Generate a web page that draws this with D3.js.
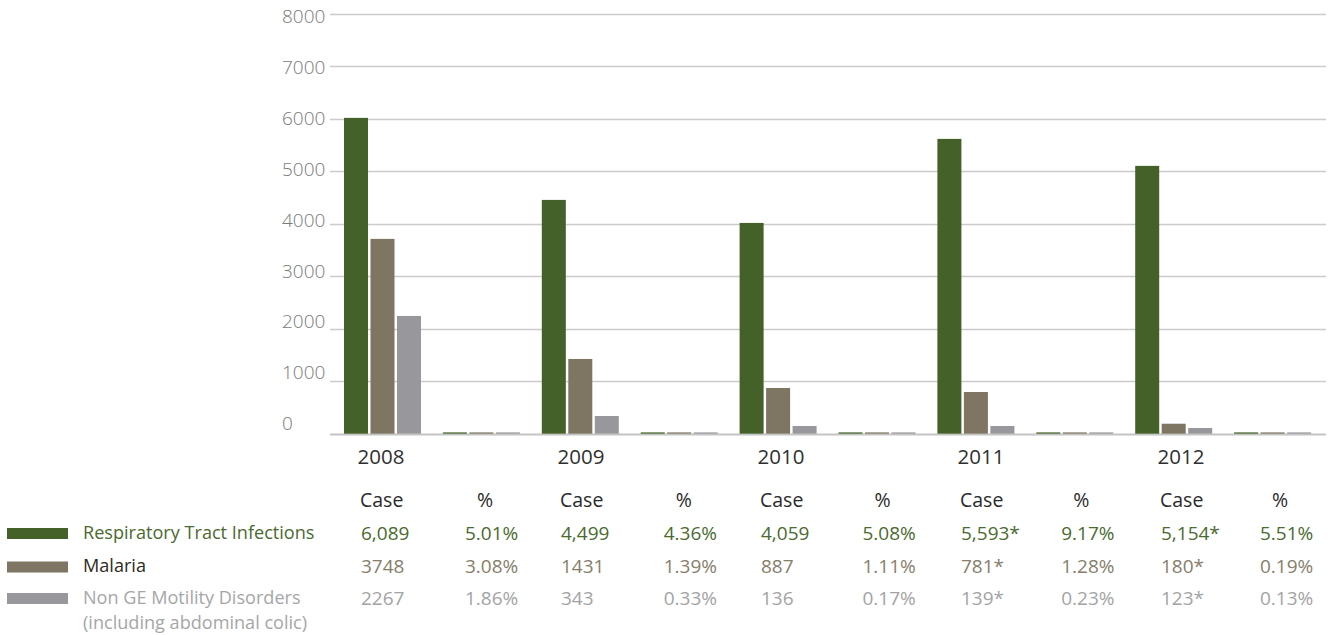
<!DOCTYPE html>
<html>
<head>
<meta charset="utf-8">
<script src="https://cdn.jsdelivr.net/npm/d3@7"></script>
<style>
  html, body { margin: 0; padding: 0; background: #fff; }
  svg { display: block; font-family: "Open Sans", "Noto Sans", sans-serif; }
</style>
</head>
<body>
<svg id="chart" width="1336" height="635"></svg>
<script>
// ---------- data ----------
const years = ["2008", "2009", "2010", "2011", "2012"];
const seriesNames = ["Respiratory Tract Infections", "Malaria", "Non GE Motility Disorders"];
const seriesNote = ["", "", "(including abdominal colic)"];
// bar heights (cases)
const rtiCases = [6013, 4451, 4013, 5613, 5099];
const malariaCases = [3709, 1423, 870, 794, 190];
const nonGeCases = [2242, 337, 147, 147, 109];
// percent values (also plotted on the same axis, hence tiny)
const rtiPct = [5.01, 4.36, 5.08, 9.17, 5.51];
const malariaPct = [3.08, 1.39, 1.11, 1.28, 0.19];
const nonGePct = [1.86, 0.33, 0.17, 0.23, 0.13];
// table texts
const rtiCaseLabels = ["6,089", "4,499", "4,059", "5,593*", "5,154*"];
const malariaCaseLabels = ["3748", "1431", "887", "781*", "180*"];
const nonGeCaseLabels = ["2267", "343", "136", "139*", "123*"];
const columnHeaders = ["Case", "%"];
const yTicks = [0, 1000, 2000, 3000, 4000, 5000, 6000, 7000, 8000];

// ---------- styles ----------
const barColors = ["#44612a", "#7e7662", "#98989c"];
const labelColors = ["#4b6a2f", "#2e2a22", "#a6a6a8"];
const valueColors = ["#4b6a2f", "#877e6b", "#a3a3a5"];

const svg = d3.select("#chart");

// groups: year x (Case, %)
const groups = [];
years.forEach(y => { groups.push(y + "|Case"); groups.push(y + "|%"); });

const x = d3.scaleBand().domain(groups).range([344, 344 + 10 * 98.9]).paddingInner(0).paddingOuter(0);
const xInner = d3.scaleBand().domain(d3.range(3)).range([0, 77]).paddingInner(0.094).paddingOuter(0);
const y = d3.scaleLinear().domain([0, 8000]).range([433.7, 13.5]);
const yLabel = d3.scaleLinear().domain([0, 8000]).range([423.5, 16]);

// gridlines
svg.append("g").selectAll("line").data(yTicks).join("line")
  .attr("x1", 330).attr("x2", 1326)
  .attr("y1", d => Math.round(y(d)) + 0.5).attr("y2", d => Math.round(y(d)) + 0.5)
  .attr("stroke", d => d === 0 ? "#c4c4c4" : "#cbcbcb")
  .attr("stroke-width", d => d === 0 ? 2 : 1.3);

// tick labels
svg.append("g").selectAll("text").data(yTicks).join("text")
  .attr("x", 282).attr("y", d => yLabel(d))
  .attr("dy", "0.36em")
  .attr("font-size", 19)
  .attr("font-weight", 300)
  .attr("fill", "#7a7a7a")
  .text(d => d);

// bars
const caseSeries = [rtiCases, malariaCases, nonGeCases];
const pctSeries = [rtiPct, malariaPct, nonGePct];
const barData = [];
years.forEach((yr, i) => {
  caseSeries.forEach((s, k) => barData.push({ g: yr + "|Case", k, v: s[i] }));
  pctSeries.forEach((s, k) => barData.push({ g: yr + "|%", k, v: s[i] }));
});
svg.append("g").selectAll("rect").data(barData).join("rect")
  .attr("x", d => x(d.g) + xInner(d.k))
  .attr("width", xInner.bandwidth())
  .attr("y", d => Math.min(y(d.v), y(0) - 1.3))
  .attr("height", d => Math.max(y(0) - y(d.v), 1.3))
  .attr("fill", d => barColors[d.k]);

// table column positions
const caseCol = d3.scaleLinear().domain([0, 4]).range([361, 1161]);
const pctCol = d3.scaleLinear().domain([0, 4]).range([465, 1260]);

// year labels
svg.append("g").selectAll("text").data(years).join("text")
  .attr("x", (d, i) => caseCol(i) + 20).attr("y", 457)
  .attr("dy", "0.36em").attr("text-anchor", "middle")
  .attr("font-size", 20.5).attr("fill", "#2f2f2f")
  .text(d => d);

// header row
const hdr = svg.append("g");
years.forEach((yr, i) => {
  hdr.append("text").attr("x", caseCol(i) - 1).attr("y", 500).attr("dy", "0.36em")
    .attr("font-size", 19.5).attr("fill", "#2a2a2a").text(columnHeaders[0]);
  hdr.append("text").attr("x", pctCol(i) + 20).attr("y", 500).attr("dy", "0.36em")
    .attr("text-anchor", "middle")
    .attr("font-size", 19.5).attr("fill", "#2a2a2a").text(columnHeaders[1]);
});

// rows
const rowY = [533, 566.5, 598];
const caseLabels = [rtiCaseLabels, malariaCaseLabels, nonGeCaseLabels];
const table = svg.append("g");
seriesNames.forEach((name, k) => {
  // legend swatch
  table.append("rect").attr("x", 7).attr("y", rowY[k] - 5)
    .attr("width", 61).attr("height", 11).attr("fill", barColors[k]);
  table.append("text").attr("x", 83).attr("y", rowY[k] - 1).attr("dy", "0.36em")
    .attr("font-size", 18.1).attr("fill", labelColors[k]).text(name);
  if (seriesNote[k]) {
    table.append("text").attr("x", 83).attr("y", rowY[k] + 24).attr("dy", "0.36em")
      .attr("font-size", 18.1).attr("fill", labelColors[k]).text(seriesNote[k]);
  }
  years.forEach((yr, i) => {
    table.append("text").attr("x", caseCol(i)).attr("y", rowY[k]).attr("dy", "0.36em")
      .attr("font-size", 19).attr("fill", valueColors[k]).text(caseLabels[k][i]);
    table.append("text").attr("x", pctCol(i)).attr("y", rowY[k]).attr("dy", "0.36em")
      .attr("font-size", 19).attr("fill", valueColors[k])
      .text(pctSeries[k][i].toFixed(2) + "%");
  });
});
</script>
</body>
</html>
